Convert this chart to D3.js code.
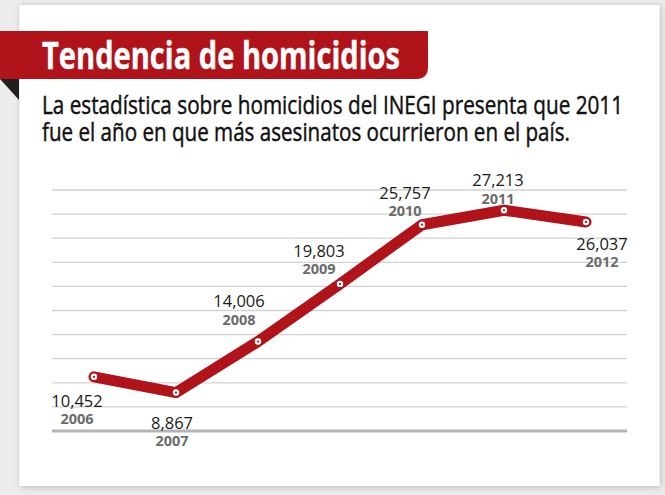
<!DOCTYPE html>
<html>
<head>
<meta charset="utf-8">
<script src="https://cdn.jsdelivr.net/npm/d3@7"></script>
<style>
  body { margin: 0; background: #ececec; }
  svg { display: block; }
</style>
</head>
<body>
<svg id="chart"></svg>
<script>
// Data
var years = ["2006", "2007", "2008", "2009", "2010", "2011", "2012"];
var homicides = [10452, 8867, 14006, 19803, 25757, 27213, 26037];
var valueLabels = ["10,452", "8,867", "14,006", "19,803", "25,757", "27,213", "26,037"];

var title = "Tendencia de homicidios";
var subtitle = ["La estadística sobre homicidios del INEGI presenta que 2011",
                "fue el año en que más asesinatos ocurrieron en el país."];

// label position relative to each point: [dx, dy of value baseline]
var labelPlacement = [[-17, 30], [-4, 36], [-19, -34], [-21, -27], [-17, -26], [-6, -24], [16, 28]];

var W = 665, H = 495;
var red = "#b0131a";

var svg = d3.select("#chart").attr("width", W).attr("height", H);

// card shadow
var defs = svg.append("defs");
var f = defs.append("filter").attr("id", "shadow")
	.attr("x", "-5%").attr("y", "-5%").attr("width", "110%").attr("height", "110%");
f.append("feDropShadow").attr("dx", 1).attr("dy", 1).attr("stdDeviation", 3)
	.attr("flood-color", "#000").attr("flood-opacity", 0.22);

svg.append("rect")
	.attr("x", 19.5).attr("y", 5).attr("width", 640).attr("height", 481)
	.attr("fill", "#fff").attr("filter", "url(#shadow)");

// title banner
svg.append("path")
	.attr("d", "M0,31 H428 V67 Q428,79 416,79 H0 Z")
	.attr("fill", red);
svg.append("path")
	.attr("d", "M0,79 H19 V100 Z")
	.attr("fill", "#231f20");

svg.append("text")
	.attr("x", 42).attr("y", 68.5)
	.attr("textLength", 358).attr("lengthAdjust", "spacingAndGlyphs")
	.style("font-family", "'Liberation Sans Narrow', 'Open Sans', sans-serif")
	.style("font-weight", "bold").style("font-size", "38px")
	.attr("fill", "#fff")
	.attr("stroke", "#fff").attr("stroke-width", 0.4)
	.text(title);

svg.selectAll(".sub")
	.data(subtitle).enter()
	.append("text").attr("class", "sub")
	.attr("x", 42).attr("y", function (d, i) { return 113.5 + i * 27; })
	.attr("textLength", function (d, i) { return i == 0 ? 581 : 528; })
	.attr("lengthAdjust", "spacingAndGlyphs")
	.style("font-family", "'Liberation Sans Narrow', 'Open Sans', sans-serif")
	.style("font-size", "25px")
	.attr("fill", "#111")
	.attr("stroke", "#111").attr("stroke-width", 0.45)
	.text(function (d) { return d; });

// scales
var x = d3.scalePoint().domain(years).range([94, 586]);
var y = d3.scaleLinear().domain([5000, 29250]).range([431, 190]);

// gridlines
var gridValues = d3.range(0, 11).map(function (i) { return 5000 + i * 2425; });
svg.append("g")
	.selectAll("line")
	.data(gridValues).enter()
	.append("line")
	.attr("x1", 52).attr("x2", 627)
	.attr("y1", function (d) { return y(d); })
	.attr("y2", function (d) { return y(d); })
	.attr("stroke", function (d, i) { return i == 0 ? "#b4b4b8" : "#d2d2d4"; })
	.attr("stroke-width", function (d, i) { return i == 0 ? 3 : 1.3; });

// line
var pts = years.map(function (yr, i) { return [x(yr), y(homicides[i])]; });
var line = d3.line();

svg.append("path")
	.attr("d", line(pts))
	.attr("fill", "none")
	.attr("stroke", red)
	.attr("stroke-width", 11)
	.attr("stroke-linejoin", "round")
	.attr("stroke-linecap", "round");

var dots = svg.append("g").selectAll("g")
	.data(pts).enter()
	.append("g")
	.attr("transform", function (d) { return "translate(" + d[0] + "," + d[1] + ")"; });
dots.append("circle").attr("r", 3.2).attr("fill", "#fff");
dots.append("circle").attr("r", 1.1).attr("fill", red);

// labels
var labels = svg.append("g").selectAll("g")
	.data(years).enter()
	.append("g")
	.attr("transform", function (d, i) {
		return "translate(" + (pts[i][0] + labelPlacement[i][0]) + "," + (pts[i][1] + labelPlacement[i][1]) + ")";
	});

labels.append("text")
	.attr("text-anchor", "middle")
	.style("font-family", "'Open Sans', sans-serif")
	.style("font-size", "16.5px")
	.attr("fill", "#1a1a1a")
	.text(function (d, i) { return valueLabels[i]; });

labels.append("text")
	.attr("text-anchor", "middle")
	.attr("y", 17.5)
	.style("font-family", "'Open Sans', sans-serif")
	.style("font-weight", "bold")
	.style("font-size", "14.5px")
	.attr("fill", "#6b6b6b")
	.text(function (d) { return d; });
</script>
</body>
</html>
